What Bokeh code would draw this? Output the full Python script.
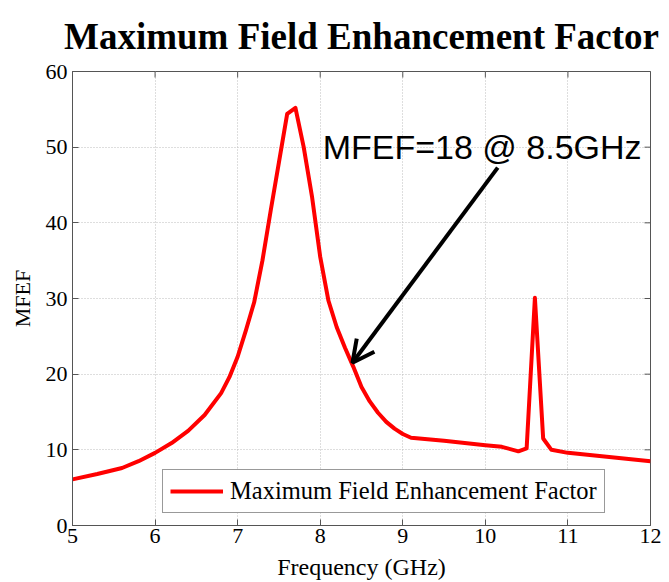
import math
from bokeh.plotting import figure
from bokeh.models import (Range1d, Legend, LegendItem, Label, Arrow,
                          OpenHead, FixedTicker)
from bokeh.embed import file_html
from bokeh.resources import INLINE

# ---- data ----
freq = [5.0, 5.3, 5.6, 5.8, 6.0, 6.2, 6.4, 6.6, 6.8, 6.9, 7.0, 7.1, 7.2, 7.3,
        7.4, 7.5, 7.6, 7.7, 7.8, 7.9, 8.0, 8.1, 8.2, 8.3, 8.4, 8.5, 8.6, 8.7,
        8.8, 8.9, 9.0, 9.1, 9.5, 10.0, 10.2, 10.4, 10.5, 10.6, 10.7, 10.8,
        11.0, 11.5, 12.0]
mfef = [6.1, 6.8, 7.6, 8.5, 9.6, 10.9, 12.5, 14.6, 17.5, 19.6, 22.3, 25.8,
        29.5, 35.0, 41.6, 48.0, 54.4, 55.2, 50.0, 43.5, 35.5, 29.7, 26.2, 23.5,
        21.0, 18.3, 16.4, 14.9, 13.7, 12.8, 12.1, 11.6, 11.2, 10.6, 10.4, 9.8,
        10.2, 30.1, 11.5, 10.0, 9.6, 9.05, 8.5]
x_ticks = [5, 6, 7, 8, 9, 10, 11, 12]
y_ticks = [0, 10, 20, 30, 40, 50, 60]
x_min, x_max = 5, 12
y_min, y_max = 0, 60
series_label = "Maximum Field Enhancement Factor"
title_text = "Maximum Field Enhancement Factor"
note_text = "MFEF=18 @ 8.5GHz"

SERIF = "Liberation Serif"
AXIS_COLOR = "#555555"

p = figure(width=669, height=582, output_backend="svg", toolbar_location=None,
           x_range=Range1d(x_min, x_max), y_range=Range1d(y_min, y_max),
           min_border_left=72, min_border_right=19, min_border_top=71,
           min_border_bottom=57, x_axis_label="Frequency (GHz)",
           y_axis_label="MFEF")
p.outline_line_color = AXIS_COLOR
p.background_fill_color = "white"
p.border_fill_color = "white"

# title
p.title.text = title_text
p.title.text_font = SERIF
p.title.text_font_style = "bold"
p.title.text_font_size = "37px"
p.title.align = "center"
p.title.vertical_align = "top"
p.title.text_color = "black"
p.title.standoff = 25

xa = p.xaxis[0]
ya = p.yaxis[0]
xa.ticker = FixedTicker(ticks=x_ticks)
ya.ticker = FixedTicker(ticks=y_ticks)
for ax in (xa, ya):
    ax.axis_line_color = AXIS_COLOR
    ax.major_tick_line_color = AXIS_COLOR
    ax.major_tick_in = 6
    ax.major_tick_out = 0
    ax.minor_tick_line_color = None
    ax.major_label_text_font = SERIF
    ax.major_label_text_color = "black"
    ax.major_label_text_font_size = "22px"
    ax.axis_label_text_font = SERIF
    ax.axis_label_text_font_style = "normal"
    ax.axis_label_text_color = "black"
xa.major_label_standoff = 3
ya.major_label_standoff = 5
xa.axis_label_text_font_size = "24px"
ya.axis_label_text_font_size = "22px"
xa.axis_label_standoff = 8
ya.axis_label_standoff = 8

# inward ticks on the top and right edges of the box (half of each dash is
# clipped away by the frame, leaving a tick pointing inward)
p.scatter(x_ticks, [y_max] * len(x_ticks), marker="dash", size=12,
          angle=math.pi / 2, line_color=AXIS_COLOR, line_width=1)
p.scatter([x_max] * len(y_ticks), y_ticks, marker="dash", size=12,
          line_color=AXIS_COLOR, line_width=1)

# grid
for g in (p.xgrid[0], p.ygrid[0]):
    g.grid_line_color = "#bdbdbd"
    g.grid_line_dash = "1 2"
    g.grid_line_width = 1
p.xgrid[0].ticker = FixedTicker(ticks=x_ticks)
p.ygrid[0].ticker = FixedTicker(ticks=y_ticks)

r = p.line(freq, mfef, line_color="#ff0000", line_width=4, line_join="round")

legend = Legend(items=[LegendItem(label=series_label, renderers=[r])],
                location=(90, 12))
legend.label_text_font = SERIF
legend.label_text_font_size = "24.5px"
legend.label_text_color = "black"
legend.glyph_width = 53
legend.glyph_height = 18
legend.label_height = 18
legend.label_standoff = 7
legend.padding = 7
legend.margin = 0
legend.border_line_color = "#333333"
legend.border_line_width = 1
legend.background_fill_color = "white"
legend.background_fill_alpha = 1
p.add_layout(legend)

note = Label(x=8.03, y=50, text=note_text, text_font="Liberation Sans",
             text_font_size="34px", text_baseline="alphabetic",
             text_color="black")
p.add_layout(note)

arrow = Arrow(end=OpenHead(size=22, line_width=4, line_color="black"),
              x_start=10.15, y_start=47.3, x_end=8.39, y_end=21.5,
              line_width=4, line_color="black")
p.add_layout(arrow)

open("out.html", "w").write(file_html(p, INLINE))
